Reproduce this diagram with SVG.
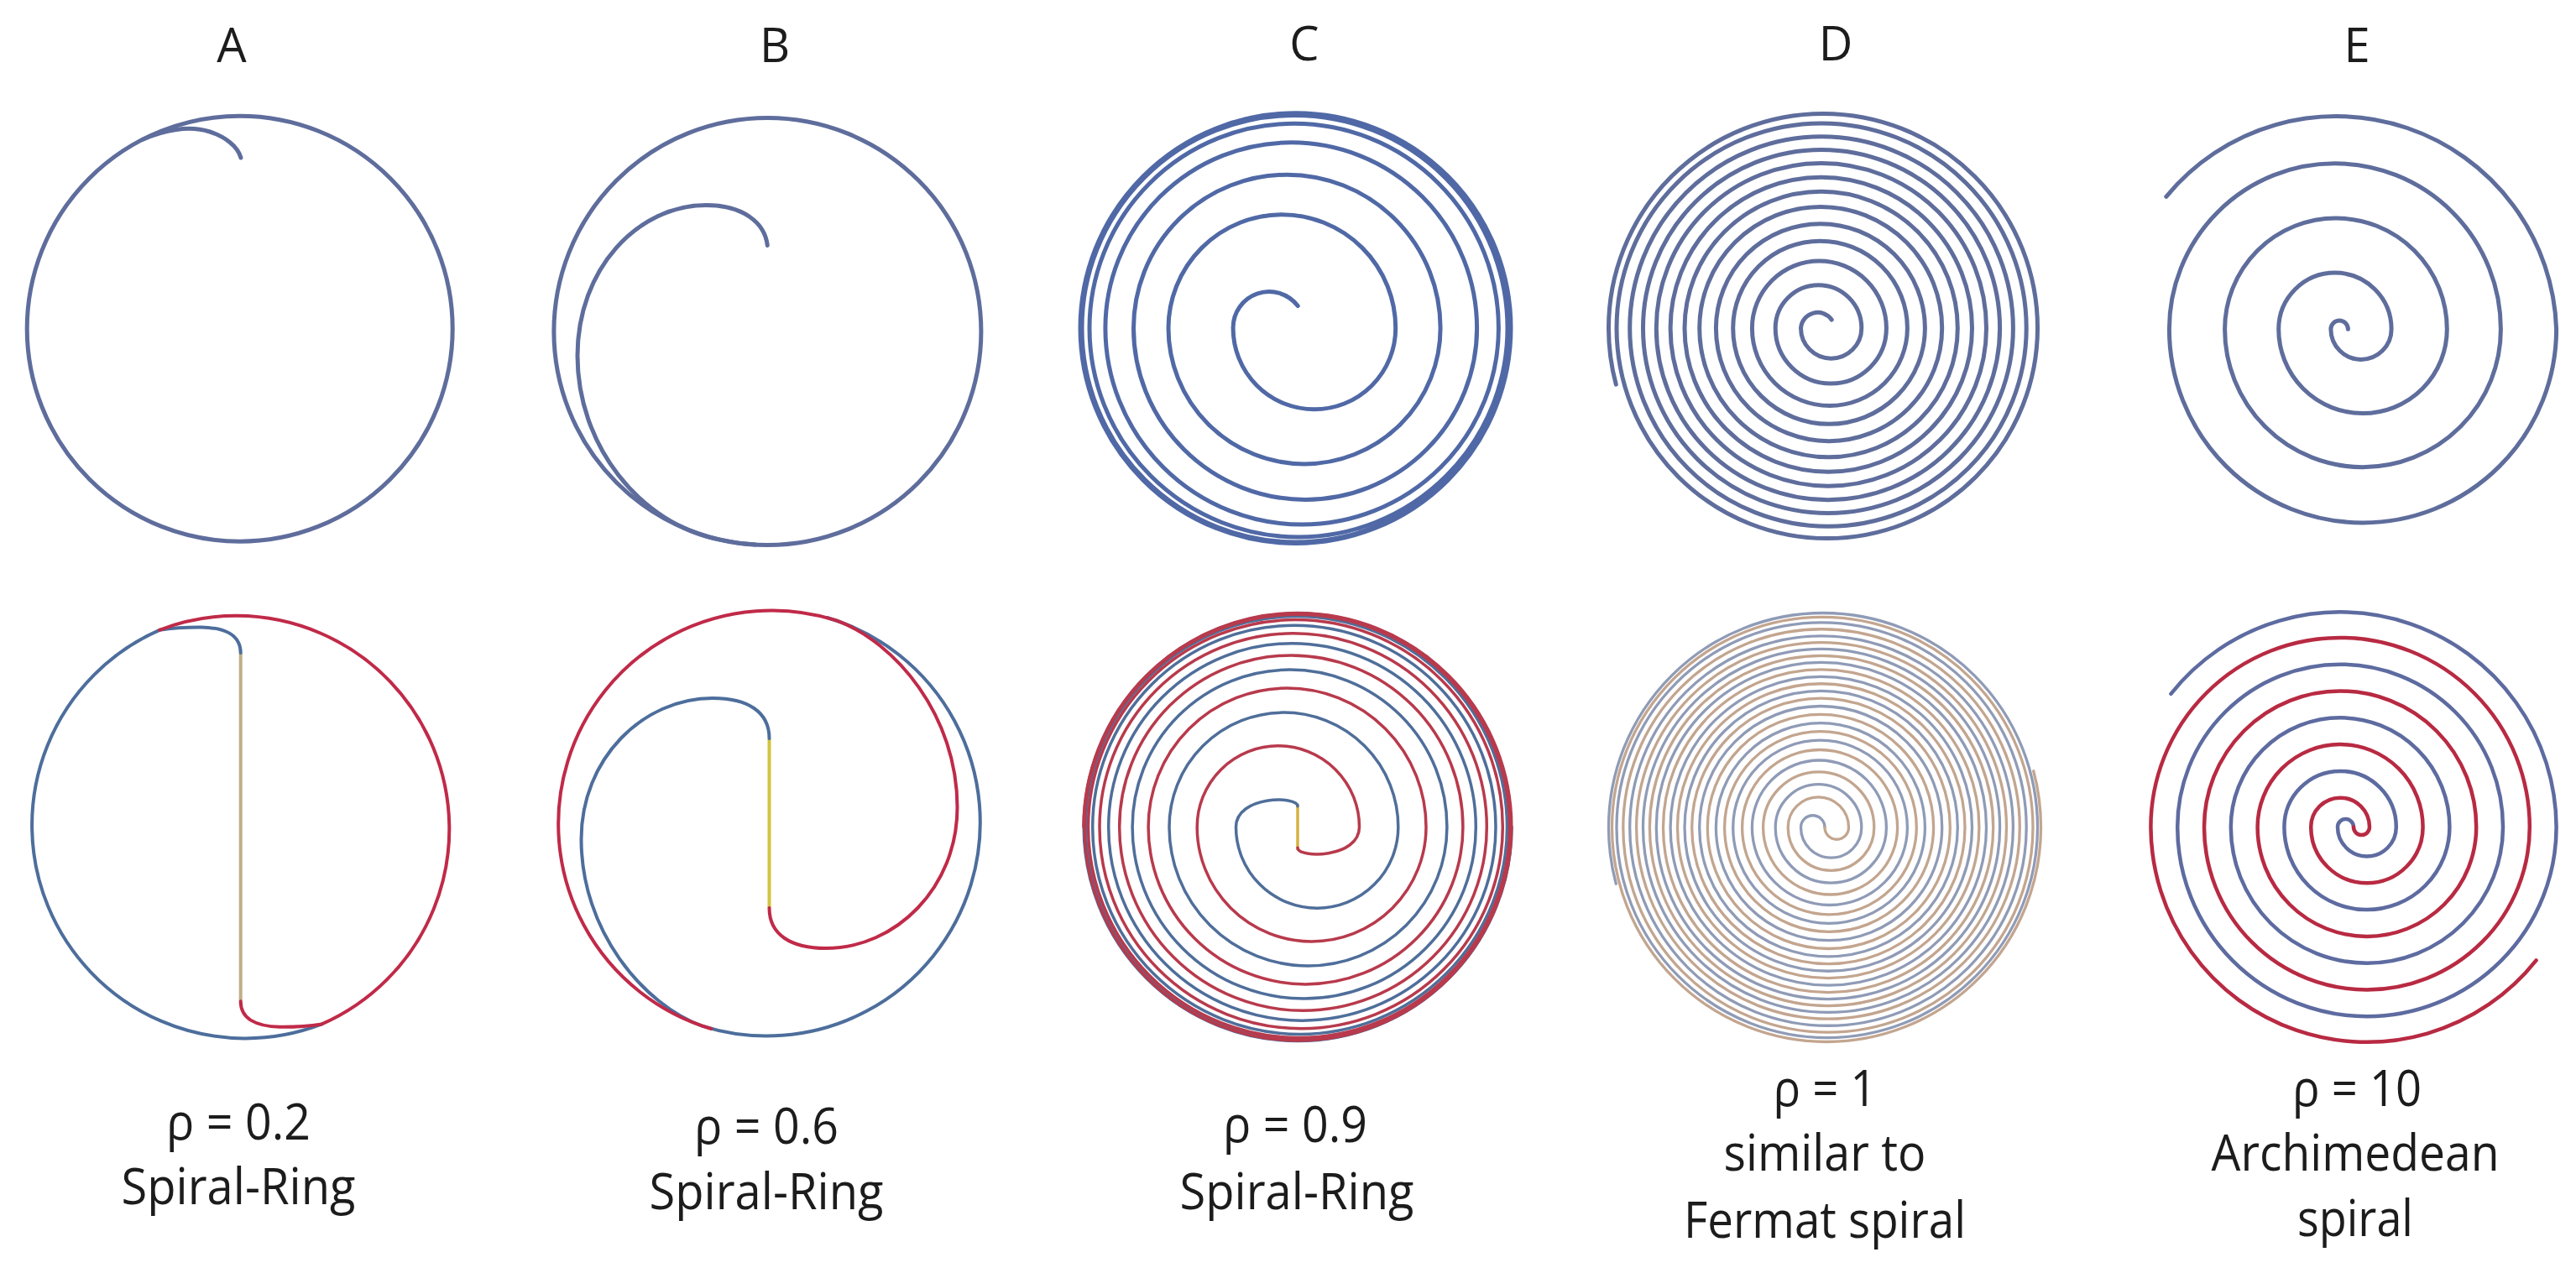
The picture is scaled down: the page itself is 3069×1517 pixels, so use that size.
<svg xmlns="http://www.w3.org/2000/svg" width="3069" height="1517" viewBox="0 0 3069 1517">
<style>
.bg{fill:#ffffff}
.t{fill:none;stroke:#5e6d9c;stroke-width:5;stroke-linecap:round}
.tc{fill:none;stroke:#5069a6;stroke-width:5;stroke-linecap:round}
.bl{fill:none;stroke:#4d6e9c;stroke-width:4;stroke-linecap:round}
.rd{fill:none;stroke:#c02a48;stroke-width:4;stroke-linecap:round}
.bl3{fill:none;stroke:#4f6e9a;stroke-width:3.5;stroke-linecap:round}
.rd3{fill:none;stroke:#b83a4c;stroke-width:3.5;stroke-linecap:round}
.dA{fill:none;stroke:#8f9bb6;stroke-width:3.3;stroke-linecap:round}
.dB{fill:none;stroke:#c3a58f;stroke-width:3.3;stroke-linecap:round}
.eb{fill:none;stroke:#5d6ba0;stroke-width:4.5;stroke-linecap:round}
.er{fill:none;stroke:#b82a42;stroke-width:4.5;stroke-linecap:round}
.lbl{font-family:"Open Sans","Noto Sans",sans-serif;fill:#1c1c1c;text-anchor:middle}
.hd{font-size:56px}
.sub{font-size:60px}
</style>
<rect class="bg" x="0" y="0" width="3069" height="1517"/>

<g id="panel-A-top">
<text class="lbl hd" x="276" y="74">A</text>
<circle class="t" cx="285.7" cy="391.7" r="253.5"/>
<path class="t" d="M 170 166.2 C 195 155, 225 149, 250 157 C 268 163, 283 174, 287 188"/>
</g>

<g id="panel-B-top">
<text class="lbl hd" x="923" y="74">B</text>
<circle class="t" cx="914.4" cy="395" r="254.5"/>
<path class="t" d="M 914.3 292.4 C 911 265, 885 244.6, 841.2 244.6 C 760 244.6, 688 320, 688 424 C 688 528, 760 625, 860 643.6 Q 880 648 900 649.1"/>
</g>

<g id="panel-C-top">
<text class="lbl hd" x="1554" y="72">C</text>
<path class="tc" d="M 1546.2 364.6 A 42.9 42.9 0 0 0 1469.1 391 A 96.8 96.8 0 0 0 1662.7 391 A 135.35 135.35 0 0 0 1392 391 A 162.05 162.05 0 0 0 1716.1 391 A 182.8 182.8 0 0 0 1350.5 391 A 204.55 204.55 0 0 0 1759.6 391 A 221.35 221.35 0 0 0 1316.9 391 A 234.25 234.25 0 0 0 1785.4 391 A 243.7 243.7 0 0 0 1298 391 A 249 249 0 0 0 1796 391 A 253.5 253.5 0 0 0 1289 391 A 255 255 0 0 0 1799 391 A 256 256 0 0 0 1287 391 A 256.5 256.5 0 0 0 1800 391 A 256.25 256.25 0 0 0 1287.5 391"/>
</g>

<g id="panel-D-top">
<text class="lbl hd" x="2187" y="72">D</text>
<path class="t" d="M 2182.2 381 A 20.2 20.2 0 0 0 2145.5 391 A 36.15 36.15 0 0 0 2217.8 391 A 51.3 51.3 0 0 0 2115.2 391 A 66.1 66.1 0 0 0 2247.4 391 A 80 80 0 0 0 2087.4 391 A 92.5 92.5 0 0 0 2272.4 391 A 103.85 103.85 0 0 0 2064.7 391 A 114.35 114.35 0 0 0 2293.4 391 A 124.5 124.5 0 0 0 2044.4 391 A 134.65 134.65 0 0 0 2313.7 391 A 144.5 144.5 0 0 0 2024.7 391 A 153.8 153.8 0 0 0 2332.3 391 A 162.65 162.65 0 0 0 2007 391 A 171.25 171.25 0 0 0 2349.5 391 A 179.7 179.7 0 0 0 1990.1 391 A 188.2 188.2 0 0 0 2366.5 391 A 196.6 196.6 0 0 0 1973.3 391 A 204.65 204.65 0 0 0 2382.6 391 A 212.55 212.55 0 0 0 1957.5 391 A 220.45 220.45 0 0 0 2398.4 391 A 228.35 228.35 0 0 0 1941.7 391 A 236.25 236.25 0 0 0 2414.2 391 A 244.1 244.1 0 0 0 1926 391 A 250.75 250.75 0 0 0 2427.5 391 A 255.5 255.5 0 0 0 1916.5 391 A 259.75 259.75 0 0 0 1925.3 458.2"/>
</g>

<g id="panel-E-top">
<text class="lbl hd" x="2808" y="74">E</text>
<path class="t" d="M 2797.4 392.3 A 10.25 10.25 0 0 0 2776.9 392.3 A 36.1 36.1 0 0 0 2849.1 392.3 A 67.2 67.2 0 0 0 2714.7 392.3 A 100.3 100.3 0 0 0 2915.3 392.3 A 132.35 132.35 0 0 0 2650.6 392.3 A 164.4 164.4 0 0 0 2979.4 392.3 A 197.5 197.5 0 0 0 2584.4 392.3 A 230.6 230.6 0 0 0 3045.6 392.3 A 262.3 262.3 0 0 0 2580.8 234.3"/>
</g>

<g id="panel-A-bottom">
<path fill="none" stroke="#c1ae86" stroke-width="4" d="M 286.7 778 L 286.7 1193"/>
<path class="bl" d="M 286.7 778 C 286.7 757, 268 748, 240 747.5 C 222 747.3, 205 748.5, 190 750.8 A 254 254 0 0 0 383.4 1220.4"/>
<path class="rd" transform="rotate(180 286.7 985.6)" d="M 286.7 778 C 286.7 757, 268 748, 240 747.5 C 222 747.3, 205 748.5, 190 750.8 A 254 254 0 0 0 383.4 1220.4"/>
<text class="lbl sub" x="284" y="1358" textLength="172" lengthAdjust="spacingAndGlyphs">ρ = 0.2</text>
<text class="lbl sub" x="284" y="1435" textLength="279" lengthAdjust="spacingAndGlyphs">Spiral-Ring</text>
</g>

<g id="panel-B-bottom">
<path fill="none" stroke="#d4c43e" stroke-width="4" d="M 916.5 880 L 916.5 1082"/>
<path class="bl" d="M 916.5 880 C 916.5 848, 890.6 832, 849 832 C 766 832, 692.5 904, 692.5 1000 C 692.5 1109, 766 1197, 837.2 1222.9 A 254.5 254.5 0 1 0 985.5 736"/>
<path class="rd" transform="rotate(180 916.5 981)" d="M 916.5 880 C 916.5 848, 890.6 832, 849 832 C 766 832, 692.5 904, 692.5 1000 C 692.5 1109, 766 1197, 837.2 1222.9 A 254.5 254.5 0 1 0 985.5 736"/>
<text class="lbl sub" x="913" y="1363" textLength="172" lengthAdjust="spacingAndGlyphs">ρ = 0.6</text>
<text class="lbl sub" x="913" y="1441" textLength="279" lengthAdjust="spacingAndGlyphs">Spiral-Ring</text>
</g>

<g id="panel-C-bottom">
<path fill="none" stroke="#d6b240" stroke-width="3.5" d="M 1546 958 L 1546 1013"/>
<path class="bl3" d="M 1546 960.8 C 1546 948, 1472.5 948, 1472.5 985.5 A 96.65 96.65 0 0 0 1665.8 985.5 A 136.4 136.4 0 0 0 1393 985.5 A 165.45 165.45 0 0 0 1723.9 985.5 A 187.4 187.4 0 0 0 1349.1 985.5 A 204.6 204.6 0 0 0 1758.3 985.5 A 218.8 218.8 0 0 0 1320.7 985.5 A 230.65 230.65 0 0 0 1782 985.5 A 240.15 240.15 0 0 0 1301.7 985.5 A 246.9 246.9 0 0 0 1795.5 985.5 A 251 251 0 0 0 1293.5 985.5 A 253.25 253.25 0 0 0 1800 985.5 A 254.4 254.4 0 0 0 1291.2 985.5 A 254.9 254.9 0 0 0 1801 985.5"/>
<path class="rd3" transform="rotate(180 1546 985.5)" d="M 1546 960.8 C 1546 948, 1472.5 948, 1472.5 985.5 A 96.65 96.65 0 0 0 1665.8 985.5 A 136.4 136.4 0 0 0 1393 985.5 A 165.45 165.45 0 0 0 1723.9 985.5 A 187.4 187.4 0 0 0 1349.1 985.5 A 204.6 204.6 0 0 0 1758.3 985.5 A 218.8 218.8 0 0 0 1320.7 985.5 A 230.65 230.65 0 0 0 1782 985.5 A 240.15 240.15 0 0 0 1301.7 985.5 A 246.9 246.9 0 0 0 1795.5 985.5 A 251 251 0 0 0 1293.5 985.5 A 253.25 253.25 0 0 0 1800 985.5 A 254.4 254.4 0 0 0 1291.2 985.5 A 254.9 254.9 0 0 0 1801 985.5"/>
<text class="lbl sub" x="1543" y="1361" textLength="172" lengthAdjust="spacingAndGlyphs">ρ = 0.9</text>
<text class="lbl sub" x="1545" y="1441" textLength="279" lengthAdjust="spacingAndGlyphs">Spiral-Ring</text>
</g>

<g id="panel-D-bottom">
<path class="dA" d="M 2174 986 A 14.25 14.25 0 0 0 2145.5 986 A 36.15 36.15 0 0 0 2217.8 986 A 51.3 51.3 0 0 0 2115.2 986 A 66.1 66.1 0 0 0 2247.4 986 A 80 80 0 0 0 2087.4 986 A 92.5 92.5 0 0 0 2272.4 986 A 103.85 103.85 0 0 0 2064.7 986 A 114.35 114.35 0 0 0 2293.4 986 A 124.5 124.5 0 0 0 2044.4 986 A 134.65 134.65 0 0 0 2313.7 986 A 144.5 144.5 0 0 0 2024.7 986 A 153.8 153.8 0 0 0 2332.3 986 A 162.65 162.65 0 0 0 2007 986 A 171.25 171.25 0 0 0 2349.5 986 A 179.7 179.7 0 0 0 1990.1 986 A 188.2 188.2 0 0 0 2366.5 986 A 196.6 196.6 0 0 0 1973.3 986 A 204.65 204.65 0 0 0 2382.6 986 A 212.55 212.55 0 0 0 1957.5 986 A 220.45 220.45 0 0 0 2398.4 986 A 228.35 228.35 0 0 0 1941.7 986 A 236.25 236.25 0 0 0 2414.2 986 A 244.1 244.1 0 0 0 1926 986 A 250.75 250.75 0 0 0 2427.5 986 A 255.5 255.5 0 0 0 1916.5 986 A 259.75 259.75 0 0 0 1925.3 1053.2"/>
<path class="dB" transform="rotate(180 2174 986)" d="M 2174 986 A 14.25 14.25 0 0 0 2145.5 986 A 36.15 36.15 0 0 0 2217.8 986 A 51.3 51.3 0 0 0 2115.2 986 A 66.1 66.1 0 0 0 2247.4 986 A 80 80 0 0 0 2087.4 986 A 92.5 92.5 0 0 0 2272.4 986 A 103.85 103.85 0 0 0 2064.7 986 A 114.35 114.35 0 0 0 2293.4 986 A 124.5 124.5 0 0 0 2044.4 986 A 134.65 134.65 0 0 0 2313.7 986 A 144.5 144.5 0 0 0 2024.7 986 A 153.8 153.8 0 0 0 2332.3 986 A 162.65 162.65 0 0 0 2007 986 A 171.25 171.25 0 0 0 2349.5 986 A 179.7 179.7 0 0 0 1990.1 986 A 188.2 188.2 0 0 0 2366.5 986 A 196.6 196.6 0 0 0 1973.3 986 A 204.65 204.65 0 0 0 2382.6 986 A 212.55 212.55 0 0 0 1957.5 986 A 220.45 220.45 0 0 0 2398.4 986 A 228.35 228.35 0 0 0 1941.7 986 A 236.25 236.25 0 0 0 2414.2 986 A 244.1 244.1 0 0 0 1926 986 A 250.75 250.75 0 0 0 2427.5 986 A 255.5 255.5 0 0 0 1916.5 986 A 259.75 259.75 0 0 0 1925.3 1053.2"/>
<text class="lbl sub" x="2174" y="1318" textLength="123" lengthAdjust="spacingAndGlyphs">ρ = 1</text>
<text class="lbl sub" x="2174" y="1395" textLength="241" lengthAdjust="spacingAndGlyphs">similar to</text>
<text class="lbl sub" x="2174" y="1475" textLength="336" lengthAdjust="spacingAndGlyphs">Fermat spiral</text>
</g>

<g id="panel-E-bottom">
<path class="eb" d="M 2804 985.6 A 9.5 9.5 0 0 0 2785 985.6 A 34.9 34.9 0 0 0 2854.8 985.6 A 66.7 66.7 0 0 0 2721.4 985.6 A 98.5 98.5 0 0 0 2918.4 985.6 A 130.3 130.3 0 0 0 2657.8 985.6 A 162.1 162.1 0 0 0 2982 985.6 A 193.9 193.9 0 0 0 2594.2 985.6 A 225.7 225.7 0 0 0 3045.6 985.6 A 257.5 257.5 0 0 0 2586.4 826.8"/>
<path class="er" transform="rotate(180 2804 985.6)" d="M 2804 985.6 A 9.5 9.5 0 0 0 2785 985.6 A 34.9 34.9 0 0 0 2854.8 985.6 A 66.7 66.7 0 0 0 2721.4 985.6 A 98.5 98.5 0 0 0 2918.4 985.6 A 130.3 130.3 0 0 0 2657.8 985.6 A 162.1 162.1 0 0 0 2982 985.6 A 193.9 193.9 0 0 0 2594.2 985.6 A 225.7 225.7 0 0 0 3045.6 985.6 A 257.5 257.5 0 0 0 2586.4 826.8"/>
<text class="lbl sub" x="2808" y="1318" textLength="154" lengthAdjust="spacingAndGlyphs">ρ = 10</text>
<text class="lbl sub" x="2806" y="1395" textLength="343" lengthAdjust="spacingAndGlyphs">Archimedean</text>
<text class="lbl sub" x="2806" y="1473" textLength="138" lengthAdjust="spacingAndGlyphs">spiral</text>
</g>
</svg>
